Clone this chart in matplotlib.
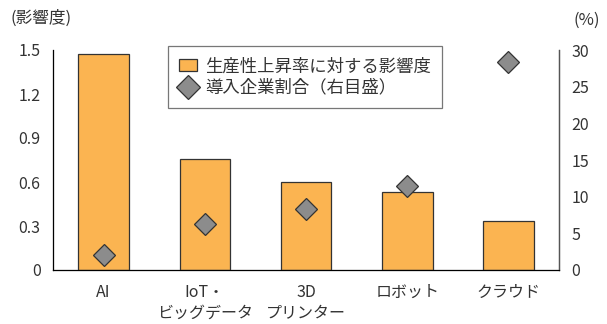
import matplotlib
matplotlib.use("Agg")
import matplotlib.pyplot as plt
from matplotlib.lines import Line2D
from matplotlib.patches import Patch

plt.rcParams['font.family'] = ['Noto Sans CJK JP', 'DejaVu Sans']

categories = ["AI", "IoT・\nビッグデータ", "3D\nプリンター", "ロボット", "クラウド"]
impact = [1.47, 0.76, 0.60, 0.535, 0.335]
adoption = [2.1, 6.3, 8.3, 11.5, 28.3]
left_ticks = [0, 0.3, 0.6, 0.9, 1.2, 1.5]
left_labels = ["0", "0.3", "0.6", "0.9", "1.2", "1.5"]
right_ticks = [0, 5, 10, 15, 20, 25, 30]

txt = "#333333"
fig = plt.figure(figsize=(6.07, 3.24), dpi=100)
ax = fig.add_axes([53/607, 1-270/324, (559-53)/607, 220/324])
x = list(range(len(categories)))
ax.bar(x, impact, width=0.5, color="#FBB451", edgecolor="#333333", linewidth=0.9, zorder=2)
ax.set_xlim(-0.5, 4.5)
ax.set_ylim(0, 1.5)
ax.set_yticks(left_ticks)
ax.set_yticklabels(left_labels)
ax.set_xticks(x)
ax.set_xticklabels(categories, linespacing=1.3)
ax.spines["top"].set_visible(False)
for s in ["left", "bottom", "right"]:
    ax.spines[s].set_color("#555555")
    ax.spines[s].set_linewidth(0.9)
ax.tick_params(length=0, labelsize=11.5, colors=txt, pad=9)
ax.tick_params(axis='x', pad=10)

ax2 = ax.twinx()
ax2.set_ylim(0, 30)
ax2.set_yticks(right_ticks)
ax2.spines["top"].set_visible(False)
ax2.spines["right"].set_color("#555555")
ax2.spines["right"].set_linewidth(0.9)
ax2.tick_params(length=0, labelsize=11.5, colors=txt, pad=9)
ax2.plot(x, adoption, linestyle="none", marker="D", markersize=11,
         markerfacecolor="#8C8C8C", markeredgecolor="#333333", markeredgewidth=0.9, zorder=3)

fig.text(10/607, 1-18/324, "(影響度)", fontsize=12, color=txt, va="center", ha="left")
fig.text(600/607, 1-20/324, "(%)", fontsize=12, color=txt, va="center", ha="right")

handles = [Patch(facecolor="#FBB451", edgecolor="#333333", linewidth=0.9),
           Line2D([], [], linestyle="none", marker="D", markersize=12,
                  markerfacecolor="#8C8C8C", markeredgecolor="#333333", markeredgewidth=0.9)]
leg = ax.legend(handles, ["生産性上昇率に対する影響度", "導入企業割合（右目盛）"],
                loc="upper left", bbox_to_anchor=((168-53)/506, 1+(49-45)/220),
                fontsize=12.5, frameon=True, fancybox=False, edgecolor="#555555",
                handlelength=1.0, handletextpad=0.5, borderpad=0.65, labelspacing=0.2,
                borderaxespad=0)
leg.get_frame().set_linewidth(0.9)
for t in leg.get_texts():
    t.set_color(txt)
leg.set_zorder(5)

fig.savefig("out.png", dpi=100)
